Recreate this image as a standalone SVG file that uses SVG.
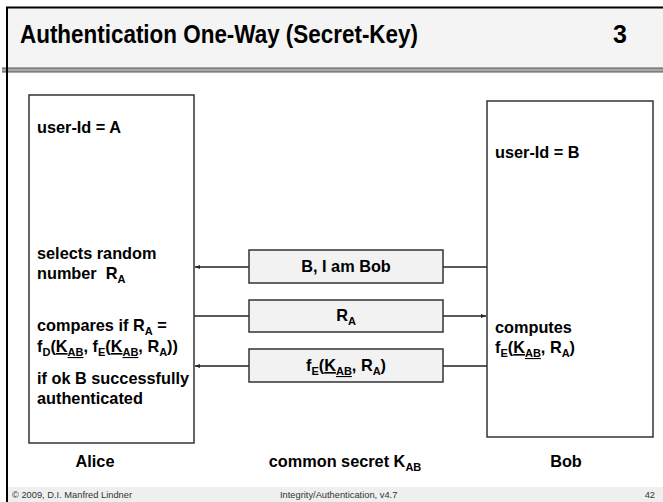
<svg xmlns="http://www.w3.org/2000/svg" width="663" height="502" viewBox="0 0 663 502">
<defs>
<style>
.t{font-family:"Liberation Sans",Arial,sans-serif;font-weight:bold;font-size:16.3px;fill:#000}
.title{font-family:"Liberation Sans",Arial,sans-serif;font-weight:bold;font-size:25px;fill:#000}
.foot{font-family:"Liberation Sans",Arial,sans-serif;font-size:9.3px;fill:#333}
.sub{font-size:11px}
.u{text-decoration:underline}
.box{fill:#fff;stroke:#333;stroke-width:1.5}
.msg{fill:#f2f2f2;stroke:#333;stroke-width:1.5}
.conn{stroke:#222;stroke-width:1.3;fill:none}
</style>
<marker id="arr" viewBox="0 0 10 10" refX="10" refY="5" markerWidth="5" markerHeight="5" orient="auto" markerUnits="userSpaceOnUse">
<path d="M0,1 L10,5 L0,9 z" fill="#222"/>
</marker>
</defs>
<rect x="0" y="0" width="663" height="502" fill="#fff"/>
<g id="header">
<rect x="7" y="8" width="656" height="60" fill="#f4f4f4"/>
<line x1="6" y1="7.5" x2="663" y2="7.5" stroke="#000" stroke-width="2"/>
<rect x="2" y="68" width="661" height="4" fill="#a8a8a8"/>
<line x1="2" y1="68" x2="663" y2="68" stroke="#555" stroke-width="1"/>
<line x1="2" y1="72" x2="663" y2="72" stroke="#555" stroke-width="1"/>
<line x1="7" y1="7" x2="7" y2="502" stroke="#000" stroke-width="2"/>
<text class="title" x="20" y="43" textLength="398" lengthAdjust="spacingAndGlyphs">Authentication One-Way (Secret-Key)</text>
<text class="title" x="613" y="43">3</text>
</g>
<g id="footer">
<rect x="8" y="487" width="655" height="15" fill="#efefef"/>
<text class="foot" x="12" y="498">© 2009, D.I. Manfred Lindner</text>
<text class="foot" x="280" y="498">Integrity/Authentication, v4.7</text>
<text class="foot" x="655" y="498" text-anchor="end">42</text>
</g>
<g id="connectors">
<line class="conn" x1="487" y1="267" x2="195" y2="267" marker-end="url(#arr)"/>
<line class="conn" x1="194" y1="316" x2="486" y2="316" marker-end="url(#arr)"/>
<line class="conn" x1="487" y1="366" x2="195" y2="366" marker-end="url(#arr)"/>
</g>
<g id="alice">
<rect class="box" x="29" y="95" width="165" height="348"/>
<text class="t" x="37" y="133">user-Id = A</text>
<text class="t" x="37" y="259">selects random</text>
<text class="t" x="37" y="279">number&#160; R<tspan class="sub" dy="4">A</tspan></text>
<text class="t" x="37" y="331">compares if R<tspan class="sub" dy="4">A</tspan><tspan dy="-4"> =</tspan></text>
<text class="t" x="37" y="352">f<tspan class="sub" dy="4">D</tspan><tspan dy="-4">(</tspan><tspan class="u">K</tspan><tspan class="sub u" dy="4">AB</tspan><tspan dy="-4">, f</tspan><tspan class="sub" dy="4">E</tspan><tspan dy="-4">(</tspan><tspan class="u">K</tspan><tspan class="sub u" dy="4">AB</tspan><tspan dy="-4">, R</tspan><tspan class="sub" dy="4">A</tspan><tspan dy="-4">))</tspan></text>
<text class="t" x="37" y="384">if ok B successfully</text>
<text class="t" x="37" y="404">authenticated</text>
<text class="t" x="95" y="467" text-anchor="middle">Alice</text>
</g>
<g id="bob">
<rect class="box" x="487" y="101" width="166" height="336"/>
<text class="t" x="495" y="158">user-Id = B</text>
<text class="t" x="495" y="333">computes</text>
<text class="t" x="495" y="353">f<tspan class="sub" dy="4">E</tspan><tspan dy="-4">(</tspan><tspan class="u">K</tspan><tspan class="sub u" dy="4">AB</tspan><tspan dy="-4">, R</tspan><tspan class="sub" dy="4">A</tspan><tspan dy="-4">)</tspan></text>
<text class="t" x="566" y="467" text-anchor="middle">Bob</text>
</g>
<g id="msg1">
<rect class="msg" x="249" y="250" width="194" height="33"/>
<text class="t" x="346" y="272" text-anchor="middle">B, I am Bob</text>
</g>
<g id="msg2">
<rect class="msg" x="249" y="300" width="194" height="32"/>
<text class="t" x="346" y="321" text-anchor="middle">R<tspan class="sub" dy="4">A</tspan></text>
</g>
<g id="msg3">
<rect class="msg" x="249" y="349" width="194" height="33"/>
<text class="t" x="346" y="371" text-anchor="middle">f<tspan class="sub" dy="4">E</tspan><tspan dy="-4">(</tspan><tspan class="u">K</tspan><tspan class="sub u" dy="4">AB</tspan><tspan dy="-4">, R</tspan><tspan class="sub" dy="4">A</tspan><tspan dy="-4">)</tspan></text>
</g>
<g id="secret">
<text class="t" x="345" y="467" text-anchor="middle">common secret K<tspan class="sub" dy="4">AB</tspan></text>
</g>
</svg>
